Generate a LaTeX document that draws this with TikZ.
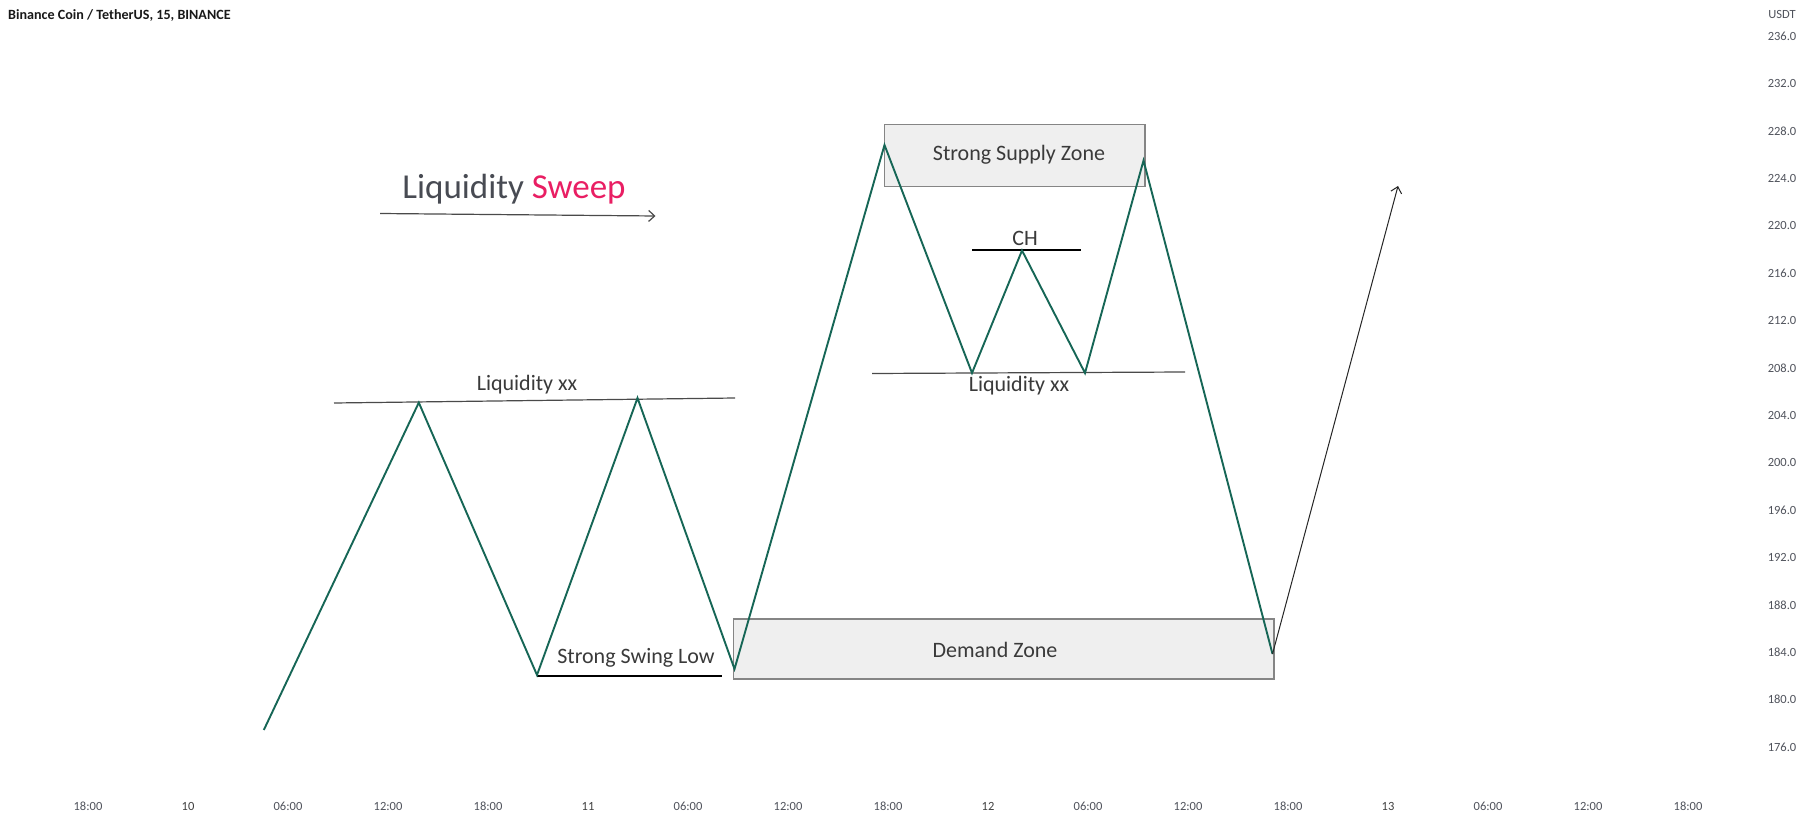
\documentclass[tikz,border=0pt]{standalone}
\usepackage{fontspec}
\setmainfont{Carlito}
\usetikzlibrary{arrows.meta}
\definecolor{zig}{RGB}{22,102,86}
\definecolor{txt}{HTML}{3A3A3A}
\definecolor{ax}{HTML}{50535C}
\definecolor{zonefill}{HTML}{EFEFEF}
\definecolor{zoneedge}{HTML}{858585}
\definecolor{pinkc}{HTML}{E91E63}
\definecolor{liqline}{HTML}{4A4A4A}
\begin{document}
\begin{tikzpicture}[x=1pt,y=-1pt,
  axlabel/.style={text=ax,font=\fontsize{12.5}{14}\selectfont,inner sep=0pt},
  daylabel/.style={text=black!75,font=\fontsize{12.5}{14}\selectfont,inner sep=0pt},
  lbl/.style={text=txt,font=\fontsize{22}{24}\selectfont,inner sep=0pt},
  zone/.style={fill=zonefill,draw=zoneedge,line width=1.8pt},
  zigline/.style={draw=zig,line width=1.9pt,line join=miter},
  liq/.style={draw=liqline,line width=1.2pt},
  mark line/.style={draw=black,line width=2pt}]
\fill[white] (0,0) rectangle (1814,818);
\useasboundingbox (0,0) rectangle (1814,818);

% title
\node[anchor=west,inner sep=0pt,font=\bfseries\fontsize{14.1}{16}\selectfont,text=black!90] (title) at (8,16) {Binance Coin / TetherUS, 15, BINANCE};

% right price axis
\node[axlabel] (usdt) at (1782,14) {USDT};
\foreach \p [count=\i from 0] in {236,232,228,224,220,216,212,208,204,200,196,192,188,184,180,176}
  \node[axlabel] (yl\i) at (1782,{36+47.4*\i}) {\p.0};

% bottom time axis
\foreach \t [count=\i from 0] in {18:00,,06:00,12:00,18:00,,06:00,12:00,18:00,,06:00,12:00,18:00,,06:00,12:00,18:00}
  \node[axlabel] (xl\i) at ({88+100*\i},806) {\t};
\node[daylabel] (d10) at (188,806) {10};
\node[daylabel] (d11) at (588,806) {11};
\node[daylabel] (d12) at (988,806) {12};
\node[daylabel] (d13) at (1388,806) {13};

% zones
\draw[zone] (884.5,124.5) rectangle (1145,186.5);
\draw[zone] (733.5,619) rectangle (1274,679);

% zigzag points
\coordinate (p1) at (263.8,730);
\coordinate (p2) at (418.8,402.6);
\coordinate (p3) at (537,675);
\coordinate (p4) at (637.5,398);
\coordinate (p5) at (734.5,669);
\coordinate (p6) at (884.5,145);
\coordinate (p7) at (972,373);
\coordinate (p8) at (1022,250.5);
\coordinate (p9) at (1085,373);
\coordinate (p10) at (1143.5,160.5);
\coordinate (p11) at (1272.5,654);
\coordinate (pe) at (1398,186);

% liquidity lines
\coordinate (la) at (334,403);
\coordinate (lb) at (735,398);
\coordinate (ra) at (872,373.5);
\coordinate (rb) at (1185,372);
\draw[liq] (la) -- (lb);
\draw[liq] (ra) -- (rb);

% swing low and CH lines
\coordinate (sa) at (537,675.8);
\coordinate (sb) at (722,675.8);
\coordinate (ca) at (972,250);
\coordinate (cb) at (1081,250);
\draw[mark line] (sa) -- (sb);
\draw[mark line] (ca) -- (cb);

% zigzag
\draw[zigline] (p1) -- (p2) -- (p3) -- (p4) -- (p5) -- (p6) -- (p7) -- (p8) -- (p9) -- (p10) -- (p11);

% projection arrow
\draw[draw=black!85,line width=1pt,-{Straight Barb[length=6pt,width=11pt]}] (p11) -- (pe);

% liquidity sweep arrow
\coordinate (swa) at (380,213.5);
\coordinate (swb) at (655.5,216);
\draw[draw=liqline,line width=1.2pt,-{Straight Barb[length=6pt,width=11pt]}] (swa) -- (swb);

% texts
\node[anchor=base,inner sep=0pt,font=\fontsize{35}{38}\selectfont] (ls) at (514,198.5) {\textcolor{ax!90!black}{Liquidity} \textcolor{pinkc}{Sweep}};
\node[lbl] (liq1) at (527,385) {Liquidity xx};
\node[lbl] (liq2) at (1019,386) {Liquidity xx};
\node[lbl] (ssz) at (1019,155) {Strong Supply Zone};
\node[lbl] (ch) at (1025,238) {CH};
\node[lbl] (ssl) at (636,658) {Strong Swing Low};
\node[lbl] (dz) at (995,650) {Demand Zone};
\end{tikzpicture}
\end{document}
